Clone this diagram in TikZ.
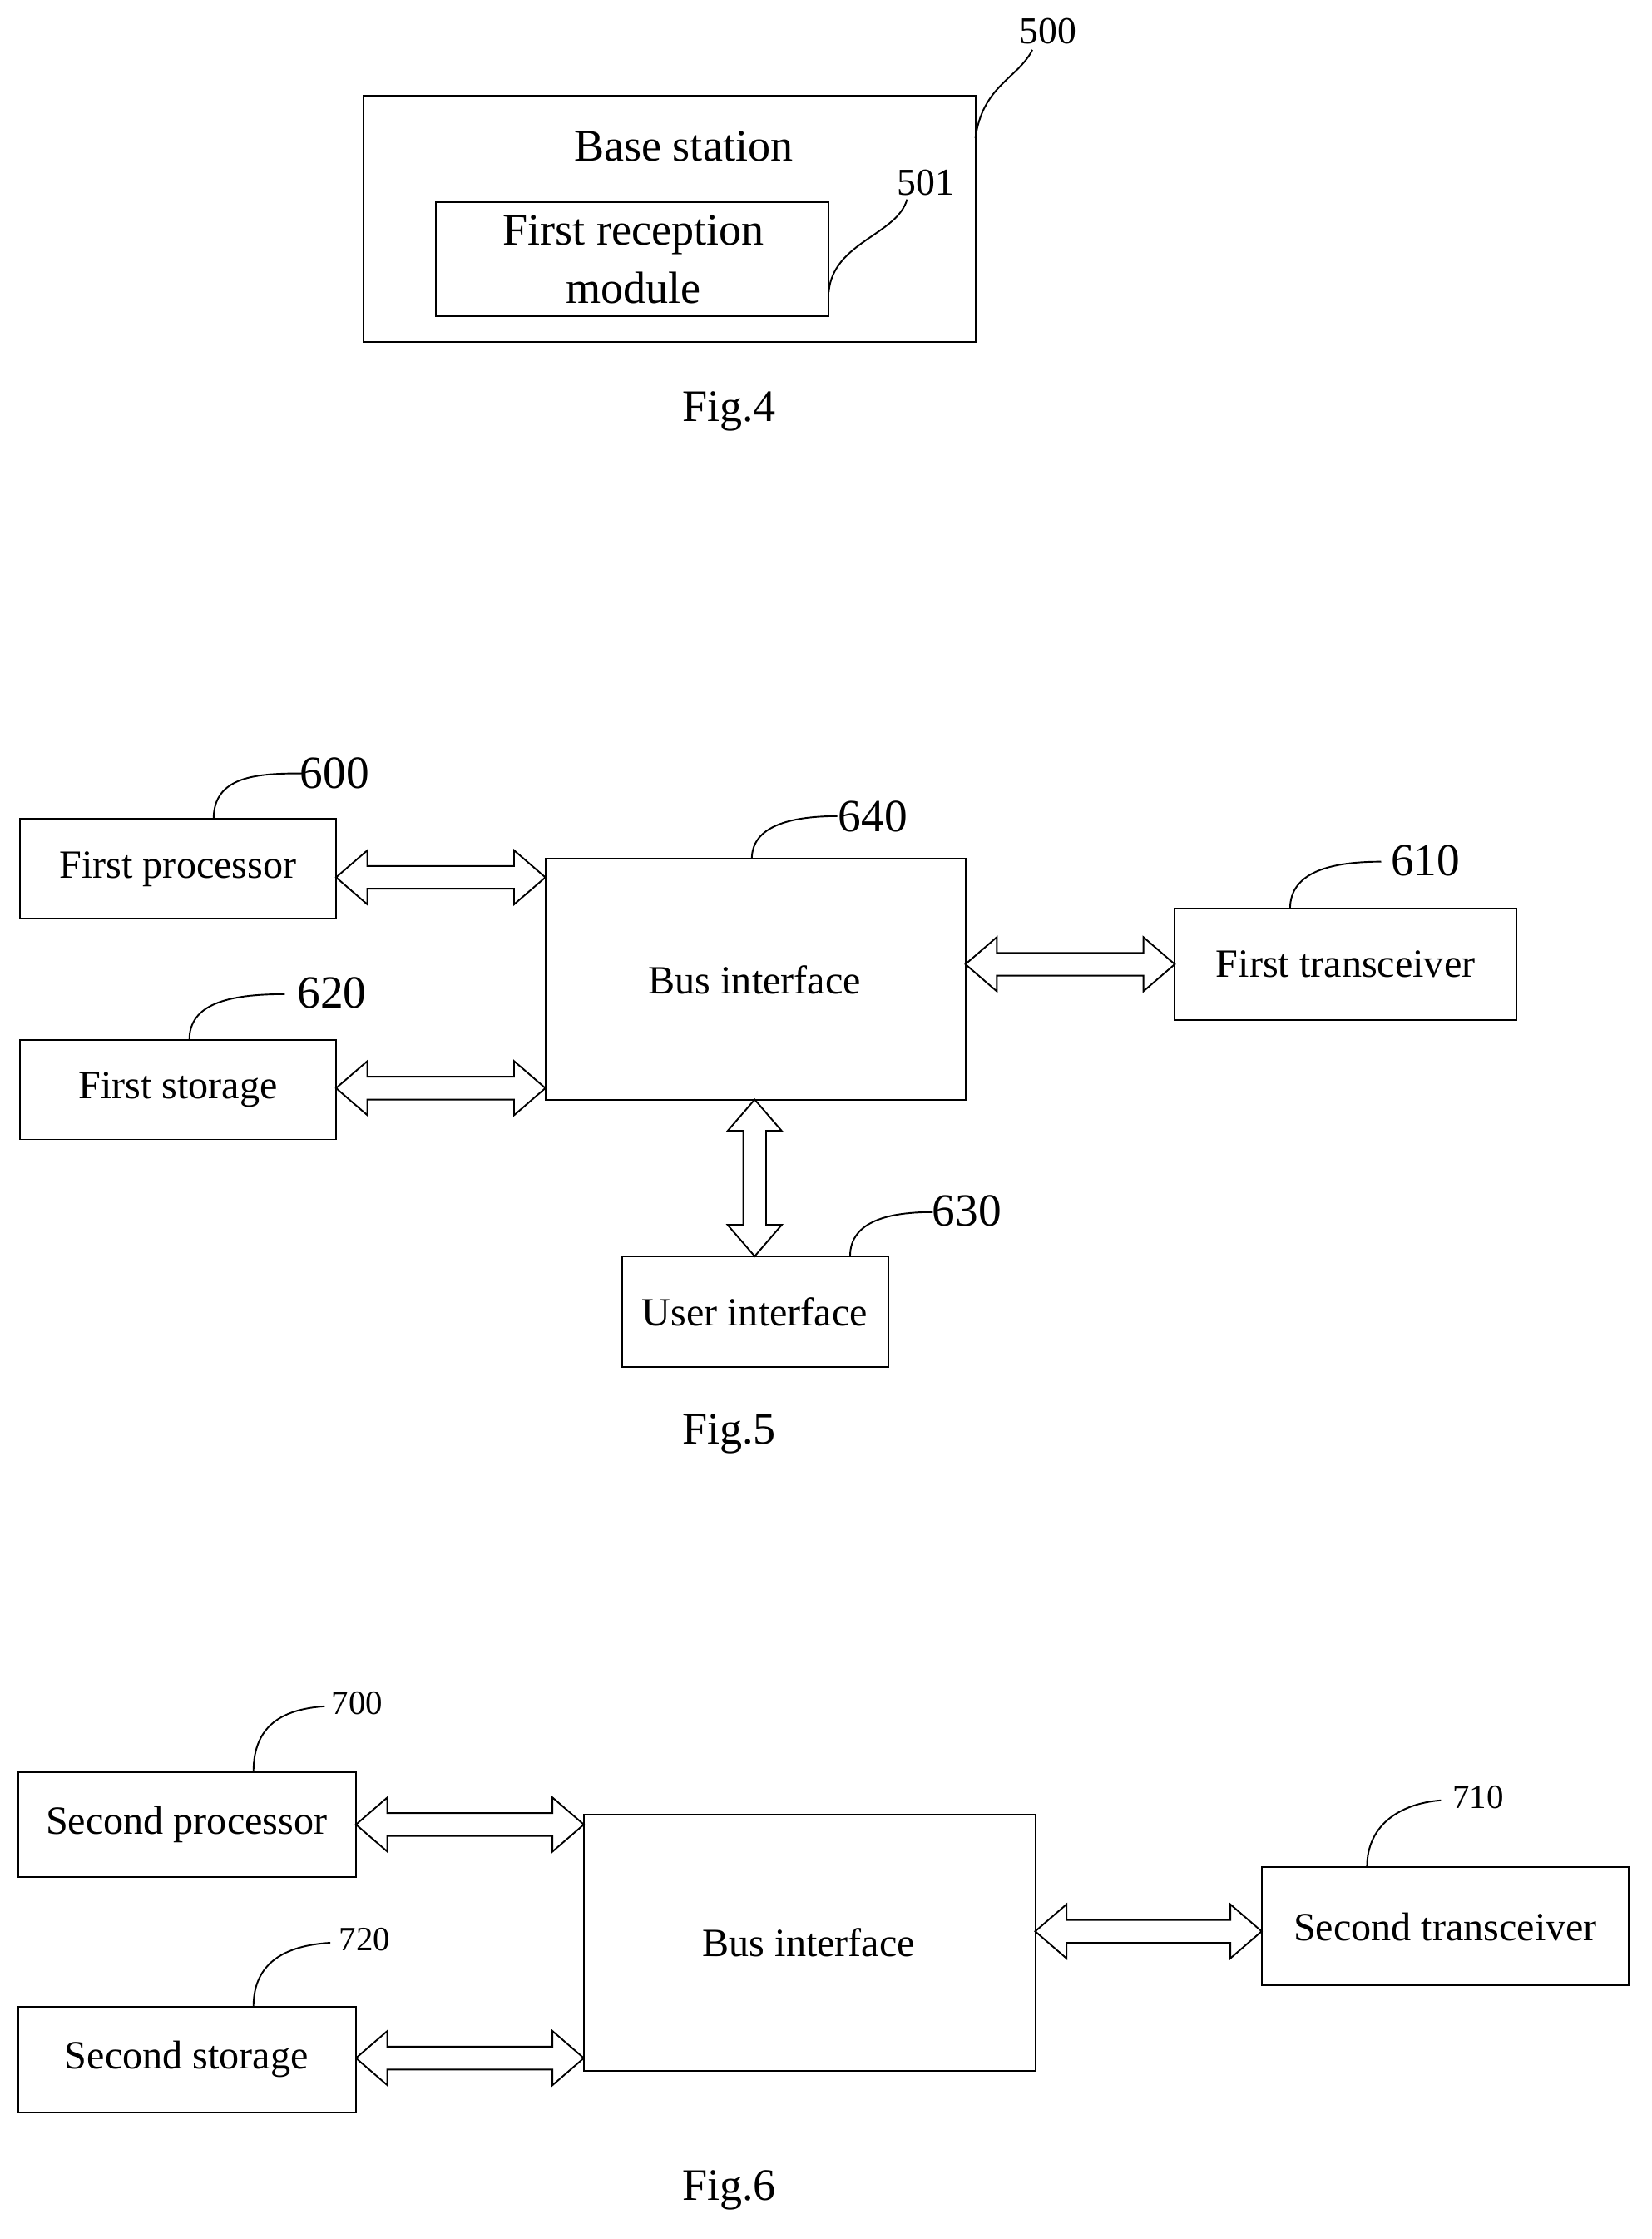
\documentclass[tikz,border=0pt]{standalone}
\usepackage{fontspec}
\setmainfont{Liberation Serif}
\newcommand\hdarrow[3]{\draw[line width=1.6pt] (#1,#3) -- ++(22,-19) -- ++(0,11) -- (#2-22,#3-8) -- ++(0,-11) -- (#2,#3) -- (#2-22,#3+19) -- ++(0,-11) -- (#1+22,#3+8) -- ++(0,11) -- cycle;}
\newcommand\vdarrow[3]{\draw[line width=1.6pt] (#3,#1) -- ++(-19,22) -- ++(11,0) -- (#3-8,#2-22) -- ++(-11,0) -- (#3,#2) -- (#3+19,#2-22) -- ++(-11,0) -- (#3+8,#1+22) -- ++(11,0) -- cycle;}
\begin{document}
\begin{tikzpicture}[x=0.05cm,y=-0.05cm,
  box/.style={draw,line width=1.6pt,inner sep=0},
  t/.style={font=\fontsize{40}{46}\selectfont},
  tn/.style={font=\fontsize{46}{50}\selectfont},
  ts/.style={font=\fontsize{34}{38}\selectfont},
  lead/.style={line width=1.6pt}]
\useasboundingbox (0,0) rectangle (1160,1572);
% Fig 4
\draw[box] (255,67) rectangle (685,240);
\draw[box] (306,142) rectangle (582,222);
\node[font=\fontsize{45}{50}\selectfont] (bs) at (480,103) {Base station};
\node[font=\fontsize{45}{58}\selectfont,align=center] (frm) at (445,182) {First reception\\module};
\node[font=\fontsize{38}{44}\selectfont] (l500) at (736,22) {500};
\node[font=\fontsize{38}{44}\selectfont] (l501) at (650,128) {501};
\draw[lead] (685,97) .. controls (690,60) and (715,55) .. (725,35);
\draw[lead] (582,205) .. controls (585,170) and (630,165) .. (637,140);
\node[font=\fontsize{45}{50}\selectfont] (f4) at (512,289) {Fig.4};
% Fig 5
\draw[box] (14,575) rectangle (236,645); \node[t] (fp) at (125,610) {First processor};
\draw[box] (14,730) rectangle (236,800); \node[t] (fs) at (125,765) {First storage};
\draw[box] (383,603) rectangle (678,772); \node[t] (bi) at (530,688) {Bus interface};
\draw[box] (825,638) rectangle (1065,716); \node[t] (ft) at (945,677) {First transceiver};
\draw[box] (437,882) rectangle (624,960); \node[t] (ui) at (530,921) {User interface};
\node[tn] (l600) at (235,543) {600};
\node[tn] (l620) at (233,697) {620};
\node[tn] (l640) at (613,573) {640};
\node[tn] (l610) at (1001,604) {610};
\node[tn] (l630) at (679,850) {630};
\draw[lead] (150,575) .. controls (150,545) and (180,543) .. (212,543);
\draw[lead] (133,730) .. controls (133,705) and (160,698) .. (200,698);
\draw[lead] (528,603) .. controls (528,580) and (555,573) .. (588,573);
\draw[lead] (906,638) .. controls (906,612) and (935,605) .. (970,605);
\draw[lead] (597,882) .. controls (597,857) and (625,851) .. (655,851);
\hdarrow{236}{383}{616}
\hdarrow{236}{383}{764}
\hdarrow{678}{825}{677}
\vdarrow{772}{882}{530}
\node[font=\fontsize{45}{50}\selectfont] (f5) at (512,1007) {Fig.5};
% Fig 6
\draw[box] (13,1244) rectangle (250,1318); \node[t] (sp) at (131,1281) {Second processor};
\draw[box] (13,1409) rectangle (250,1483); \node[t] (ss) at (131,1446) {Second storage};
\draw[box] (410,1274) rectangle (727,1454); \node[t] (bi2) at (568,1364) {Bus interface};
\draw[box] (886,1311) rectangle (1144,1394); \node[t] (st) at (1015,1353) {Second transceiver};
\node[ts] (l700) at (251,1196) {700};
\node[ts] (l720) at (256,1362) {720};
\node[ts] (l710) at (1038,1262) {710};
\draw[lead] (178,1244) .. controls (178,1210) and (200,1200) .. (228,1198);
\draw[lead] (178,1409) .. controls (178,1378) and (200,1366) .. (232,1364);
\draw[lead] (960,1311) .. controls (960,1280) and (985,1266) .. (1012,1264);
\hdarrow{250}{410}{1281}
\hdarrow{250}{410}{1445}
\hdarrow{727}{886}{1356}
\node[font=\fontsize{45}{50}\selectfont] (f6) at (512,1538) {Fig.6};
\end{tikzpicture}
\end{document}
